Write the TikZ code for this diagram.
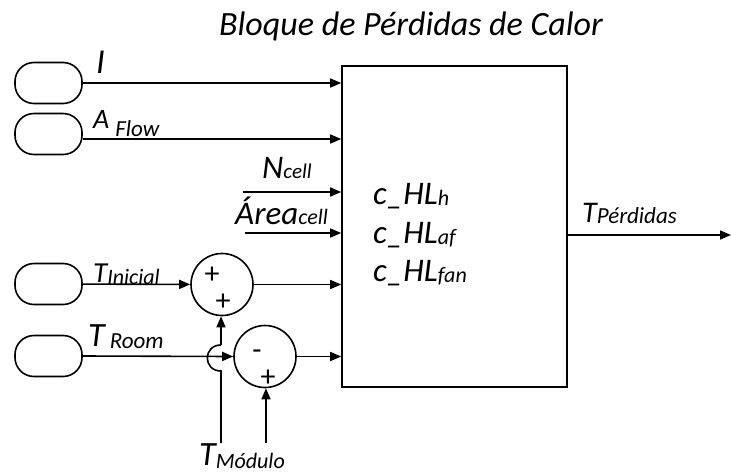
\documentclass[tikz,border=0pt]{standalone}
\usepackage{fontspec}
\setmainfont{Carlito}
\usepackage{tikz}
\usetikzlibrary{arrows.meta,positioning}

\newcommand{\fs}[1]{\fontsize{#1}{#1}\selectfont}
\newcommand{\lowsub}[3]{\raisebox{-#1pt}{\fs{#2}#3}}

\begin{document}
\begin{tikzpicture}[
    x=1pt, y=-1pt,
    term/.style={rectangle, draw, line width=1.6pt, rounded corners=19pt, minimum width=67pt, minimum height=41pt},
    blockbox/.style={rectangle, draw, line width=1.6pt, minimum width=225pt, minimum height=321pt},
    sumbox/.style={circle, draw, line width=1.6pt, minimum size=62pt, inner sep=0pt},
    lbl/.style={inner sep=0pt, anchor=base west, font=\itshape},
    sign/.style={inner sep=0pt, font=\fs{30}},
    arrow/.style={-{Triangle[length=11pt,width=9pt]}, line width=1.6pt},
    wire/.style={line width=1.6pt}
]
\useasboundingbox (0,0) rectangle (731,472);

% Title and main block
\node[lbl, font=\itshape\fs{34}] (title) at (219,35) {Bloque de Pérdidas de Calor};
\node[blockbox] (blk) at (454.5,226.5) {};
\node[lbl, font=\itshape\fs{33}] (hlh) at (373,204) {c\_HL\lowsub{1}{22}{h}};
\node[lbl, font=\itshape\fs{33}] (hlaf) at (373,243) {c\_HL\lowsub{1}{22}{af}};
\node[lbl, font=\itshape\fs{33}] (hlfan) at (373,281) {c\_HL\lowsub{1}{22}{fan}};

% Sources
\node[term] (ti) at (48.5,83) {};
\node[term] (ta) at (48.5,134) {};
\node[term] (tini) at (48.5,284) {};
\node[term] (troom) at (48.5,356) {};

% Summers
\node[sumbox] (s1) at (222,284.5) {};
\node[sumbox] (s2) at (265,356.5) {};
\node[sign] (s1a) at (212,275) {+};
\node[sign] (s1b) at (223,302) {+};
\node[sign] (s2a) at (257,355) {-};
\node[sign] (s2b) at (268,378) {+};

% Free ends
\coordinate (ncell) at (243,192);
\coordinate (acell) at (245,233);
\coordinate (tmod1) at (221,443);
\coordinate (tmod2) at (266,443);
\coordinate (tout) at (731,235);

% Labels
\node[lbl, font=\itshape\fs{35}] (li) at (96,73) {I};
\node[lbl, font=\itshape\fs{28}] (la) at (93,128) {A\hspace{6pt}\lowsub{8}{23}{Flow}};
\node[lbl, font=\itshape\fs{33}] (ln) at (262,178) {N\lowsub{0}{21}{cell}};
\node[lbl, font=\itshape\fs{33}] (lar) at (235,224) {Área\lowsub{0}{22}{cell}};
\node[lbl, font=\itshape\fs{29}] (lini) at (93,282) {T\lowsub{2}{22}{Inicial}};
\node[lbl, font=\itshape\fs{34}] (lroom) at (88,346) {T\hspace{5pt}\lowsub{2}{23}{Room}};
\node[lbl, font=\itshape\fs{34}] (lmod) at (199,465) {T\lowsub{3}{22}{Módulo}};
\node[lbl, font=\itshape\fs{30}] (lout) at (582,222) {T\lowsub{1}{23}{Pérdidas}};

% Inputs to block
\draw[arrow] (ti) -- (ti -| blk.west);
\draw[arrow] ([yshift=-5pt]ta.east) -- ([yshift=-5pt]ta.east -| blk.west);
\draw[arrow] (ncell) -- (ncell -| blk.west);
\draw[arrow] (acell) -- (acell -| blk.west);

% Summer paths
\draw[arrow] (tini) -- (s1);
\draw[arrow] (troom.east) -- (s2.west);
\draw[arrow] (s1) -- (s1 -| blk.west);
\draw[arrow] (s2) -- (s2 -| blk.west);
\draw[wire] (tmod1) -- (221,371) to[out=180, in=180, looseness=1.8] (221,345);
\draw[arrow] (221,345) -- (s1.south -| 221,0);
\draw[arrow] (tmod2) -- (tmod2 |- s2.south);

% Output
\draw[arrow] (blk.east |- tout) -- (tout);

\end{tikzpicture}
\end{document}
